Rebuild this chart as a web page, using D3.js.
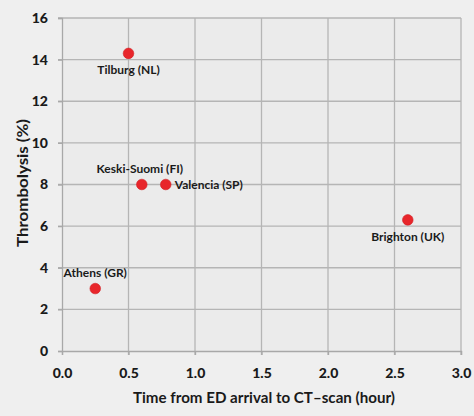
<!DOCTYPE html>
<html><head><meta charset="utf-8">
<script src="https://cdn.jsdelivr.net/npm/d3@7"></script>
<style>
html,body{margin:0;padding:0;background:#efefef;}
svg{display:block;}
text{font-family:Lato,"Open Sans",sans-serif;font-weight:bold;fill:#1a1a1a;}
</style></head>
<body>
<script>
const sites = ["Tilburg (NL)","Keski-Suomi (FI)","Valencia (SP)","Brighton (UK)","Athens (GR)"];
const timeHours = [0.5,0.6,0.78,2.6,0.25];
const thrombolysis = [14.3,8.0,8.0,6.3,3.0];
const labelPos = ["below","above","right","below","above"];
const xTicks = [0,0.5,1.0,1.5,2.0,2.5,3.0];
const yTicks = [0,2,4,6,8,10,12,14,16];

const W=474,H=416;
const m={l:62,r:13,t:18,b:65};
const svg=d3.select("body").append("svg").attr("width",W).attr("height",H);
svg.append("rect").attr("width",W).attr("height",H).attr("fill","#efefef");
const x=d3.scaleLinear().domain([0,3]).range([m.l,W-m.r]);
const y=d3.scaleLinear().domain([0,16]).range([H-m.b,m.t]);
svg.append("rect").attr("x",x(0)).attr("y",y(16)).attr("width",x(3)-x(0)).attr("height",y(0)-y(16)).attr("fill","#ebebeb");

const g=svg.append("g");
g.selectAll("line.vg").data(xTicks.slice(1)).join("line")
 .attr("x1",d=>x(d)).attr("x2",d=>x(d)).attr("y1",y(16)).attr("y2",y(0)+4)
 .attr("stroke","#b5b5b5").attr("stroke-width",1.3);
g.selectAll("line.hg").data(yTicks.slice(1)).join("line")
 .attr("x1",x(0)-4).attr("x2",x(3)).attr("y1",d=>y(d)).attr("y2",d=>y(d))
 .attr("stroke","#b5b5b5").attr("stroke-width",1.3);

const xa=svg.append("g").attr("transform",`translate(0,${y(0)})`)
 .call(d3.axisBottom(x).tickValues(xTicks).tickFormat(d3.format(".1f")).tickSize(4).tickPadding(13));
const ya=svg.append("g").attr("transform",`translate(${x(0)},0)`)
 .call(d3.axisLeft(y).tickValues(yTicks).tickFormat(d3.format("d")).tickSize(4).tickPadding(10));
[xa,ya].forEach(a=>{
  a.select(".domain").attr("stroke","#a8a8a8").attr("stroke-width",1.3);
  a.selectAll(".tick line").attr("stroke","#a8a8a8").attr("stroke-width",1.3);
  a.selectAll("text").style("font-size","14px").style("font-weight","900").attr("fill","#1a1a1a");
});

svg.append("text").attr("x",264).attr("y",403).attr("text-anchor","middle")
 .attr("textLength",262).attr("lengthAdjust","spacingAndGlyphs")
 .style("font-size","15.5px").text("Time from ED arrival to CT–scan (hour)");
svg.append("text").attr("transform",`translate(28,183) rotate(-90)`).attr("text-anchor","middle")
 .attr("textLength",128).attr("lengthAdjust","spacingAndGlyphs")
 .style("font-size","16px").text("Thrombolysis (%)");

const data=sites.map((s,i)=>({s,t:timeHours[i],v:thrombolysis[i],p:labelPos[i]}));
svg.selectAll("circle.pt").data(data).join("circle")
 .attr("cx",d=>x(d.t)).attr("cy",d=>y(d.v)).attr("r",5.3)
 .attr("fill","#e8262b").attr("stroke","#d11f24").attr("stroke-width",0.6);
svg.selectAll("text.lbl").data(data).join("text")
 .attr("x",d=>d.p==="right"?x(d.t)+9:(d.p==="above"&&d.s.startsWith("Keski")?x(d.t)-2:x(d.t)))
 .attr("y",d=>d.p==="below"?y(d.v)+21:d.p==="above"?y(d.v)-12:y(d.v)+4.5)
 .attr("text-anchor",d=>d.p==="right"?"start":"middle")
 .style("font-size","12px").text(d=>d.s);
</script>
</body></html>
